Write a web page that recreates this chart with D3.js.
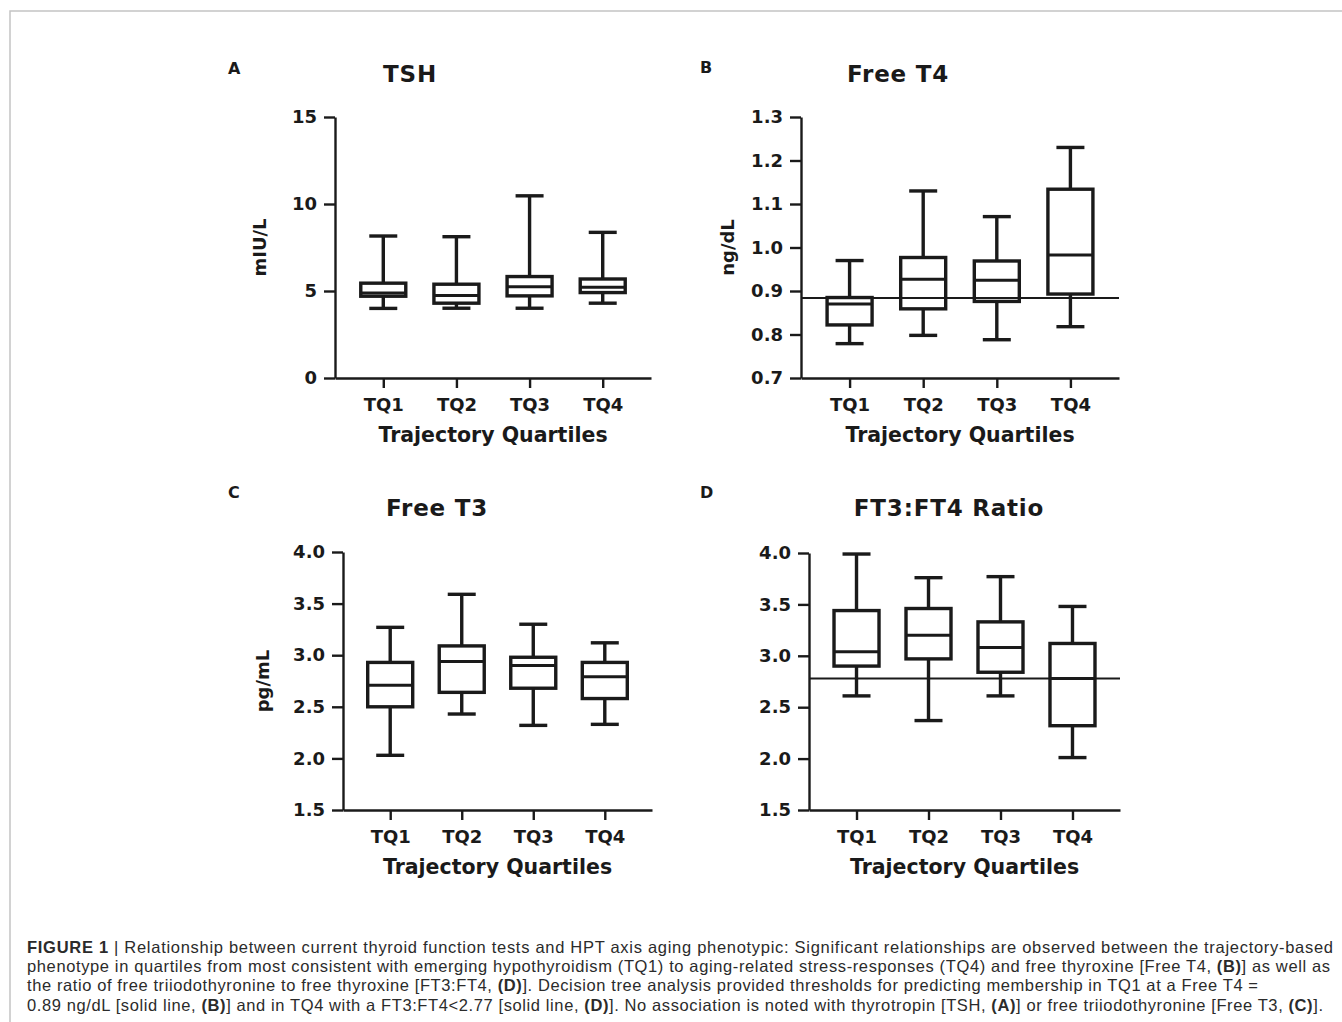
<!DOCTYPE html>
<html>
<head>
<meta charset="utf-8">
<script src="https://cdn.jsdelivr.net/npm/d3@7"></script>
<style>
  body { margin: 0; background: #fff; }
  svg { display: block; }
  .axis text { font-family: "DejaVu Sans", sans-serif; font-weight: bold; font-size: 18px; fill: #1a1a1a; }
  .axis path, .axis line { stroke: #1a1a1a; stroke-width: 2.4; }
  .bold { font-family: "DejaVu Sans", sans-serif; font-weight: bold; fill: #1a1a1a; }
  .caption { font-family: "Liberation Sans", Arial, sans-serif; font-size: 16.5px; fill: #2b2b2b; }
</style>
</head>
<body>
<svg width="1342" height="1022"></svg>
<script>
const quartiles = ["TQ1", "TQ2", "TQ3", "TQ4"];

// [low whisker, Q1, median, Q3, high whisker] for TQ1..TQ4
const tshStats = [[4.0, 4.7, 4.88, 5.45, 8.16], [4.01, 4.3, 4.74, 5.39, 8.12], [4.01, 4.72, 5.25, 5.83, 10.47], [4.3, 4.91, 5.22, 5.69, 8.37]];
const ft4Stats = [[0.779, 0.822, 0.87, 0.885, 0.97], [0.798, 0.859, 0.927, 0.977, 1.13], [0.788, 0.876, 0.925, 0.969, 1.071], [0.818, 0.893, 0.983, 1.134, 1.23]];
const ft3Stats = [[2.03, 2.5, 2.71, 2.93, 3.27], [2.43, 2.64, 2.94, 3.09, 3.59], [2.32, 2.68, 2.9, 2.98, 3.3], [2.33, 2.58, 2.79, 2.93, 3.12]];
const ratioStats = [[2.61, 2.9, 3.04, 3.44, 3.99], [2.37, 2.97, 3.2, 3.46, 3.76], [2.61, 2.84, 3.08, 3.33, 3.77], [2.01, 2.32, 2.78, 3.12, 3.48]];

const tshTicks = [0, 5, 10, 15];
const ft4Ticks = [0.7, 0.8, 0.9, 1.0, 1.1, 1.2, 1.3];
const ft3Ticks = [1.5, 2.0, 2.5, 3.0, 3.5, 4.0];
const ratioTicks = [1.5, 2.0, 2.5, 3.0, 3.5, 4.0];

const ft4Cutoff = 0.884;
const ratioCutoff = 2.78;

const svg = d3.select("svg");

// figure frame (open at right/bottom like the page crop)
svg.append("path")
  .attr("d", "M10,1022 V11 H1342")
  .attr("fill", "none")
  .attr("stroke", "#c4c4c4")
  .attr("stroke-width", 1.5);

const panels = [
  { letter: "A", title: "TSH", yLabel: "mIU/L", stats: tshStats, ticks: tshTicks, fmt: d3.format("d"), cutoff: null,
    x0: 335, x1: 651, yTop: 117, yBot: 378, letterPos: [228, 74], titlePos: [410, 82], yLabelX: 259 },
  { letter: "B", title: "Free T4", yLabel: "ng/dL", stats: ft4Stats, ticks: ft4Ticks, fmt: d3.format(".1f"), cutoff: ft4Cutoff,
    x0: 801, x1: 1119, yTop: 117, yBot: 378, letterPos: [700, 73], titlePos: [898, 82], yLabelX: 727 },
  { letter: "C", title: "Free T3", yLabel: "pg/mL", stats: ft3Stats, ticks: ft3Ticks, fmt: d3.format(".1f"), cutoff: null,
    x0: 343, x1: 652, yTop: 552, yBot: 810, letterPos: [228, 498], titlePos: [437, 516], yLabelX: 262 },
  { letter: "D", title: "FT3:FT4 Ratio", yLabel: null, stats: ratioStats, ticks: ratioTicks, fmt: d3.format(".1f"), cutoff: ratioCutoff,
    x0: 809, x1: 1120, yTop: 553, yBot: 810, letterPos: [700, 498], titlePos: [949, 516], yLabelX: null }
];

const boxW = 45;
const capW = 28;
const ink = "#1a1a1a";

panels.forEach(p => {
  const x = d3.scalePoint().domain(quartiles).range([p.x0, p.x1]).padding(0.66);
  const y = d3.scaleLinear().domain(d3.extent(p.ticks)).range([p.yBot, p.yTop]);

  const g = svg.append("g");

  g.append("g")
    .attr("class", "axis")
    .attr("transform", `translate(${p.x0},0)`)
    .call(d3.axisLeft(y).tickValues(p.ticks).tickFormat(p.fmt).tickSize(11).tickSizeOuter(0).tickPadding(7));

  g.append("g")
    .attr("class", "axis")
    .attr("transform", `translate(0,${p.yBot})`)
    .call(d3.axisBottom(x).tickSize(10).tickSizeOuter(0).tickPadding(10));

  // reference cut-off line
  if (p.cutoff !== null) {
    g.append("line")
      .attr("x1", p.x0).attr("x2", p.x1)
      .attr("y1", y(p.cutoff)).attr("y2", y(p.cutoff))
      .attr("stroke", ink).attr("stroke-width", 2);
  }

  const box = g.selectAll(".box")
    .data(p.stats.map((s, i) => ({ q: quartiles[i], s })))
    .enter().append("g")
    .attr("class", "box")
    .attr("transform", d => `translate(${x(d.q)},0)`);

  box.append("line")
    .attr("y1", d => y(d.s[0])).attr("y2", d => y(d.s[1]))
    .attr("stroke", ink).attr("stroke-width", 3.4);
  box.append("line")
    .attr("y1", d => y(d.s[3])).attr("y2", d => y(d.s[4]))
    .attr("stroke", ink).attr("stroke-width", 3.4);
  box.selectAll(".cap")
    .data(d => [d.s[0], d.s[4]])
    .enter().append("line")
    .attr("x1", -capW / 2).attr("x2", capW / 2)
    .attr("y1", v => y(v)).attr("y2", v => y(v))
    .attr("stroke", ink).attr("stroke-width", 3.4);
  box.append("rect")
    .attr("x", -boxW / 2)
    .attr("y", d => y(d.s[3]))
    .attr("width", boxW)
    .attr("height", d => y(d.s[1]) - y(d.s[3]))
    .attr("fill", "none")
    .attr("stroke", ink).attr("stroke-width", 3.4);
  box.append("line")
    .attr("x1", -boxW / 2).attr("x2", boxW / 2)
    .attr("y1", d => y(d.s[2])).attr("y2", d => y(d.s[2]))
    .attr("stroke", ink).attr("stroke-width", 3);

  // texts
  g.append("text").attr("class", "bold")
    .attr("x", p.letterPos[0]).attr("y", p.letterPos[1])
    .style("font-size", "16px").text(p.letter);

  g.append("text").attr("class", "bold")
    .attr("x", p.titlePos[0]).attr("y", p.titlePos[1])
    .attr("text-anchor", "middle")
    .style("font-size", "23px").style("letter-spacing", "0.8px").text(p.title);

  g.append("text").attr("class", "bold")
    .attr("x", (p.x0 + p.x1) / 2).attr("y", p.yBot + 64)
    .attr("text-anchor", "middle")
    .style("font-size", "20.5px").text("Trajectory Quartiles");

  if (p.yLabel) {
    g.append("text").attr("class", "bold")
      .attr("transform", `translate(${p.yLabelX + 7},${(p.yTop + p.yBot) / 2}) rotate(-90)`)
      .attr("text-anchor", "middle")
      .style("font-size", "18px").text(p.yLabel);
  }
});

// caption
const captionLines = [
  { y: 953, w: 1306, parts: [["FIGURE 1", true], [" | Relationship between current thyroid function tests and HPT axis aging phenotypic: Significant relationships are observed between the trajectory-based", false]] },
  { y: 972, w: 1303, parts: [["phenotype in quartiles from most consistent with emerging hypothyroidism (TQ1) to aging-related stress-responses (TQ4) and free thyroxine [Free T4, ", false], ["(B)", true], ["] as well as", false]] },
  { y: 991, w: 1231, parts: [["the ratio of free triiodothyronine to free thyroxine [FT3:FT4, ", false], ["(D)", true], ["]. Decision tree analysis provided thresholds for predicting membership in TQ1 at a Free T4 =", false]] },
  { y: 1011, w: 1296, parts: [["0.89 ng/dL [solid line, ", false], ["(B)", true], ["] and in TQ4 with a FT3:FT4<2.77 [solid line, ", false], ["(D)", true], ["]. No association is noted with thyrotropin [TSH, ", false], ["(A)", true], ["] or free triiodothyronine [Free T3, ", false], ["(C)", true], ["].", false]] }
];

captionLines.forEach(line => {
  const t = svg.append("text")
    .attr("class", "caption")
    .attr("x", 27).attr("y", line.y)
    .attr("textLength", line.w)
    .attr("lengthAdjust", "spacing");
  line.parts.forEach(([str, b]) => {
    t.append("tspan").style("font-weight", b ? "bold" : "normal").text(str);
  });
});
</script>
</body>
</html>
